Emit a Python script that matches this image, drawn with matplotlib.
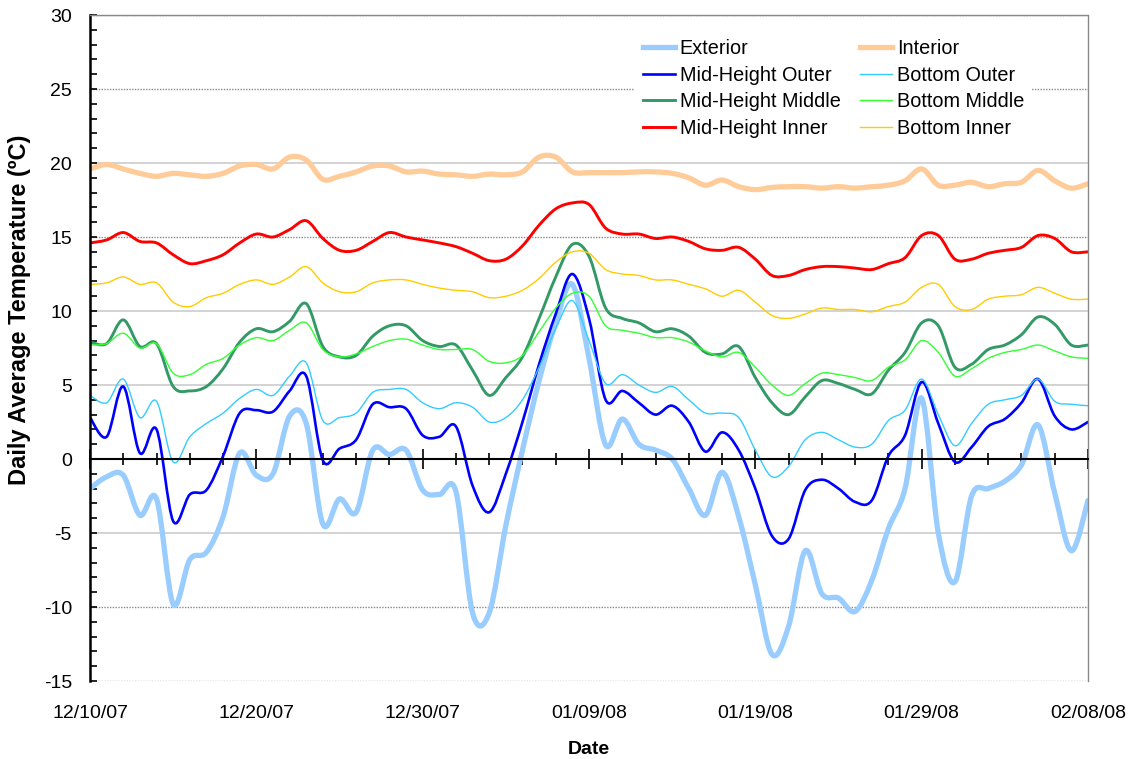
import numpy as np
import pandas as pd
import matplotlib
matplotlib.use("Agg")
import matplotlib.pyplot as plt
import matplotlib.dates as mdates
from matplotlib.path import Path
from matplotlib.patches import PathPatch
from matplotlib.lines import Line2D
from matplotlib.ticker import MultipleLocator

plt.rcParams['font.family'] = ['Liberation Sans', 'DejaVu Sans']
plt.rcParams['axes.unicode_minus'] = False

# Daily average temperatures, 12/10/07 .. 02/08/08
dates = pd.date_range('2007-12-10', '2008-02-08', freq='D')

exterior = [-2.0, -1.2, -1.1, -3.8, -2.7, -9.8, -6.8, -6.3, -3.9, 0.4,
            -1.1, -1.0, 2.9, 2.4, -4.4, -2.7, -3.6, 0.6, 0.3, 0.6,
            -2.1, -2.4, -2.2, -10.4, -10.4, -4.5, 0.6, 5.3, 9.2, 11.8,
            6.8, 0.95, 2.7, 1.0, 0.6, 0.0, -2.0, -3.8, -0.9, -3.9,
            -8.5, -13.2, -11.3, -6.2, -9.1, -9.4, -10.3, -8.2, -4.7, -2.0,
            4.1, -5.0, -8.3, -2.5, -2.0, -1.5, -0.4, 2.3, -2.3, -6.2,
            -2.8]

interior = [19.6, 19.9, 19.6, 19.3, 19.1, 19.3, 19.2, 19.1, 19.3, 19.8,
            19.9, 19.6, 20.4, 20.2, 18.9, 19.1, 19.4, 19.8, 19.8, 19.4,
            19.45, 19.25, 19.2, 19.1, 19.25, 19.2, 19.4, 20.4, 20.4, 19.4,
            19.35, 19.35, 19.35, 19.4, 19.4, 19.3, 19.0, 18.5, 18.85, 18.4,
            18.2, 18.35, 18.4, 18.4, 18.3, 18.4, 18.3, 18.4, 18.5, 18.8,
            19.6, 18.5, 18.5, 18.7, 18.4, 18.6, 18.7, 19.5, 18.8, 18.3,
            18.6]

mid_outer = [2.8, 1.5, 4.9, 0.4, 2.0, -4.2, -2.4, -2.1, 0.2, 3.1,
             3.3, 3.2, 4.6, 5.6, -0.1, 0.7, 1.3, 3.7, 3.5, 3.4,
             1.6, 1.5, 2.2, -1.8, -3.6, -1.0, 2.5, 6.4, 9.8, 12.5,
             9.5, 4.0, 4.6, 3.8, 3.0, 3.6, 2.5, 0.5, 1.8, 0.6,
             -2.0, -5.2, -5.4, -2.1, -1.4, -2.0, -2.9, -2.8, 0.2, 1.6,
             5.2, 2.4, -0.2, 0.8, 2.2, 2.7, 3.8, 5.4, 2.9, 2.0,
             2.5]

bottom_outer = [4.3, 3.8, 5.4, 2.8, 3.9, -0.2, 1.5, 2.4, 3.1, 4.1,
                4.7, 4.3, 5.6, 6.5, 2.6, 2.8, 3.1, 4.5, 4.7, 4.7,
                3.8, 3.4, 3.8, 3.5, 2.5, 2.8, 4.0, 6.2, 8.8, 10.7,
                8.0, 5.1, 5.7, 5.0, 4.5, 4.9, 4.0, 3.1, 3.1, 2.8,
                0.6, -1.2, -0.5, 1.3, 1.8, 1.3, 0.8, 1.0, 2.6, 3.3,
                5.4, 3.0, 0.9, 2.4, 3.7, 4.0, 4.3, 5.4, 3.9, 3.7,
                3.6]

mid_middle = [7.9, 7.8, 9.4, 7.6, 7.8, 4.9, 4.6, 4.9, 6.1, 7.9,
              8.8, 8.6, 9.3, 10.5, 7.6, 6.9, 7.0, 8.3, 9.0, 9.0,
              8.0, 7.6, 7.7, 6.0, 4.3, 5.5, 6.9, 9.5, 12.3, 14.5,
              13.7, 10.2, 9.5, 9.2, 8.6, 8.8, 8.3, 7.2, 7.1, 7.6,
              5.5, 3.8, 3.0, 4.2, 5.3, 5.1, 4.7, 4.4, 6.0, 7.2,
              9.2, 9.0, 6.2, 6.4, 7.4, 7.7, 8.4, 9.6, 9.1, 7.7,
              7.7]

bottom_middle = [7.7, 7.8, 8.5, 7.5, 7.8, 5.8, 5.7, 6.4, 6.8, 7.7,
                 8.2, 8.0, 8.7, 9.2, 7.4, 6.9, 7.1, 7.6, 8.0, 8.1,
                 7.7, 7.4, 7.4, 7.4, 6.6, 6.5, 7.0, 8.6, 10.2, 11.2,
                 11.0, 9.0, 8.7, 8.5, 8.2, 8.2, 7.9, 7.3, 6.9, 7.2,
                 6.2, 5.0, 4.3, 5.1, 5.8, 5.7, 5.5, 5.3, 6.2, 6.7,
                 8.0, 7.2, 5.6, 6.1, 6.8, 7.2, 7.4, 7.7, 7.3, 6.9,
                 6.8]

mid_inner = [14.6, 14.8, 15.3, 14.7, 14.6, 13.8, 13.2, 13.4, 13.8, 14.6,
             15.2, 15.0, 15.5, 16.1, 14.9, 14.1, 14.1, 14.7, 15.3, 15.0,
             14.8, 14.6, 14.35, 13.9, 13.4, 13.5, 14.4, 15.8, 16.9, 17.3,
             17.2, 15.6, 15.2, 15.2, 14.9, 15.0, 14.7, 14.2, 14.1, 14.3,
             13.5, 12.4, 12.4, 12.8, 13.0, 13.0, 12.9, 12.8, 13.2, 13.6,
             15.1, 15.1, 13.5, 13.5, 13.9, 14.1, 14.3, 15.1, 14.9, 14.0,
             14.0]

bottom_inner = [11.8, 11.9, 12.3, 11.8, 11.9, 10.6, 10.3, 10.9, 11.2, 11.8,
                12.1, 11.8, 12.3, 13.0, 11.9, 11.3, 11.3, 11.9, 12.1, 12.1,
                11.8, 11.55, 11.4, 11.3, 10.9, 11.0, 11.4, 12.2, 13.3, 14.0,
                13.9, 12.8, 12.5, 12.4, 12.1, 12.1, 11.8, 11.5, 11.0, 11.4,
                10.6, 9.7, 9.5, 9.8, 10.2, 10.1, 10.1, 9.95, 10.3, 10.6,
                11.6, 11.8, 10.3, 10.1, 10.8, 11.0, 11.1, 11.6, 11.2, 10.8,
                10.8]

# (label, values, colour, line width in points), in drawing order
series = [
    ("Exterior", exterior, "#99CCFF", 3.8),
    ("Interior", interior, "#FFCC99", 3.8),
    ("Mid-Height Outer", mid_outer, "#0000FF", 1.9),
    ("Bottom Outer", bottom_outer, "#33CCFF", 1.0),
    ("Mid-Height Middle", mid_middle, "#339966", 2.1),
    ("Bottom Middle", bottom_middle, "#33FF33", 1.0),
    ("Mid-Height Inner", mid_inner, "#FF0000", 2.1),
    ("Bottom Inner", bottom_inner, "#FFCC00", 1.0),
]


def smooth_path(x, y):
    """Cubic Bezier path through the points (smoothed line)."""
    p = np.column_stack([x, y]).astype(float)
    n = len(p)
    verts = [p[0]]
    codes = [Path.MOVETO]
    for i in range(n - 1):
        p0 = p[max(i - 1, 0)]
        p1 = p[i]
        p2 = p[i + 1]
        p3 = p[min(i + 2, n - 1)]
        verts += [p1 + (p2 - p0) / 6.0, p2 - (p3 - p1) / 6.0, p2]
        codes += [Path.CURVE4] * 3
    return Path(verts, codes)


fig = plt.figure(figsize=(11.34, 7.59), dpi=100)
ax = fig.add_axes([90 / 1134, 1 - 681 / 759, 998 / 1134, 666 / 759])

xnum = mdates.date2num(dates)
handles = {}
for label, vals, color, lw in series:
    patch = PathPatch(smooth_path(xnum, vals), facecolor='none', edgecolor=color,
                      lw=lw, capstyle='round', joinstyle='round')
    ax.add_patch(patch)
    handles[label] = Line2D([], [], color=color, lw=lw)

ax.set_xlim(xnum[0], xnum[-1])
ax.set_ylim(-15, 30)

# y axis
ax.yaxis.set_major_locator(MultipleLocator(5))
ax.yaxis.set_minor_locator(MultipleLocator(1))
ax.tick_params(axis='y', which='both', direction='in', length=5, width=1.2,
               labelsize=14, pad=13, colors='black')

# horizontal gridlines
ax.grid(axis='y', which='major')
for val, gl in zip(ax.get_yticks(), ax.yaxis.get_gridlines()):
    if np.isclose(val, 0):
        gl.set_visible(False)
    elif int(round(val)) in (30, 25, 15, -10, -15):
        gl.set_color('#888888')
        gl.set_linestyle((0, (1, 1)))
        gl.set_linewidth(1.0)
    else:
        gl.set_color('#CCCCCC')
        gl.set_linestyle('-')
        gl.set_linewidth(1.2)
ax.set_axisbelow(True)

# x axis crossing at zero
ax.spines['bottom'].set_position(('data', 0))
ax.spines['bottom'].set_linewidth(1.5)
ax.spines['left'].set_linewidth(1.8)
for side in ('top', 'right'):
    ax.spines[side].set_color('#888888')
    ax.spines[side].set_linestyle((0, (1, 1)))
    ax.spines[side].set_linewidth(1.0)

ax.set_xticks(xnum[::10])
ax.set_xticks(xnum[::2], minor=True)
ax.tick_params(axis='x', which='major', direction='inout', length=14, width=1.2,
               labelbottom=False)
ax.tick_params(axis='x', which='minor', direction='inout', length=9, width=1.2)

# date labels along the bottom of the plot area
sec = ax.secondary_xaxis(0)
sec.set_xticks(xnum[::10])
sec.xaxis.set_major_formatter(mdates.DateFormatter('%m/%d/%y'))
sec.tick_params(axis='x', length=0, pad=17, labelsize=14)
sec.spines['bottom'].set_visible(False)
sec.set_xlabel('Date', fontsize=14, fontweight='bold', labelpad=14)

ax.set_ylabel('Daily Average Temperature (\u00baC)', fontsize=17, fontweight='bold')
ax.yaxis.set_label_coords(-0.059, 0.557)

order = ["Exterior", "Mid-Height Outer", "Mid-Height Middle", "Mid-Height Inner",
         "Interior", "Bottom Outer", "Bottom Middle", "Bottom Inner"]
leg = ax.legend([handles[k] for k in order], order, ncol=2, fontsize=14.3,
                loc='upper left', bbox_to_anchor=(635 / 1134, 1 - 31 / 759),
                bbox_transform=fig.transFigure, borderaxespad=0, frameon=True,
                fancybox=False, edgecolor='none', facecolor='white', framealpha=1,
                handlelength=1.6, handletextpad=0.25, columnspacing=1.0,
                labelspacing=0.385, borderpad=0.4)

fig.savefig('out.png', dpi=100)
